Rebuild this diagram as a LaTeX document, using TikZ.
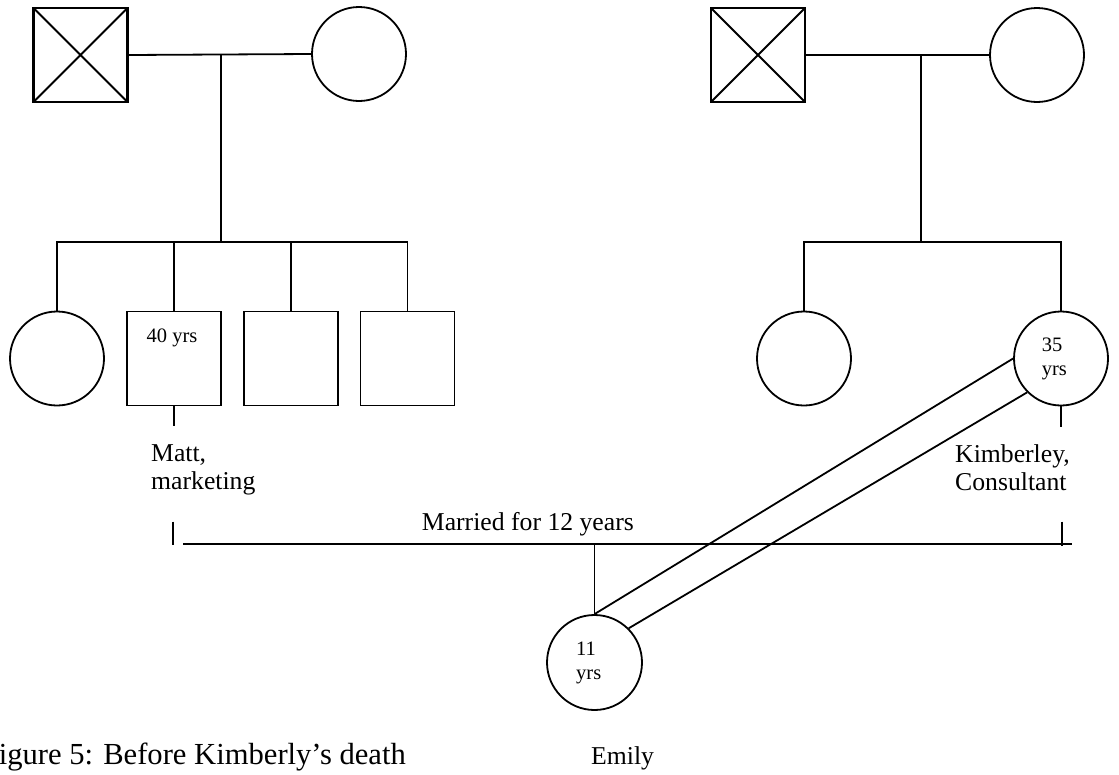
\documentclass[tikz,border=0pt]{standalone}
\usepackage{fontspec}
\setmainfont{Liberation Serif}
\begin{document}
\begin{tikzpicture}[x=1pt,y=-1pt,
  rel/.style={line width=1.8pt},
  person/.style={draw, line width=1.8pt, inner sep=0pt, minimum size=94pt},
  male/.style={person, rectangle},
  female/.style={person, circle},
  deceased/.style={male, line width=2.2pt,
    path picture={\draw[line width=1.8pt]
      (path picture bounding box.north west) -- (path picture bounding box.south east)
      (path picture bounding box.north east) -- (path picture bounding box.south west);}},
  big/.style={font=\fontsize{25.7}{28.3}\selectfont, inner sep=0pt},
  small/.style={font=\fontsize{20.5}{24}\selectfont, inner sep=0pt},
]
\useasboundingbox (0,0) rectangle (1119,774);

% grandparents
\node[deceased] (lgf) at (80.5,55) {};
\node[female]   (lgm) at (359,54) {};
\node[deceased] (rgf) at (758,55) {};
\node[female]   (rgm) at (1037,55) {};

% children generation
\node[female] (sis)  at (57,358.5) {};
\node[male]   (matt) at (173.7,358.5) {};
\node[male]   (bro1) at (291,358.5) {};
\node[male]   (bro2) at (407.5,358.5) {};
\node[female] (ksis) at (804,358.5) {};
\node[female] (kim)  at (1061,358.5) {};

% grandchild
\node[female, minimum size=95pt] (emily) at (594.5,662.5) {};

% sibship connectors
\coordinate (lm) at (220.7,55);
\coordinate (ls) at (220.7,242);
\coordinate (rm) at (920.7,55);
\coordinate (rs) at (920.7,242);
\draw[rel] (lgf.east) -- (lgm.west);
\draw[rel] (lm) -- (ls);
\draw[rel] (ls) -| (sis.north);
\draw[rel] (ls) -| (bro2.north);
\draw[rel] (matt.north) -- (matt.north |- ls);
\draw[rel] (bro1.north) -- (bro1.north |- ls);
\draw[rel] (rgf.east) -- (rgm.west);
\draw[rel] (rm) -- (rs);
\draw[rel] (rs) -| (ksis.north);
\draw[rel] (rs) -| (kim.north);

% short legs under the couple
\coordinate (mattleg) at (173.7,426);
\coordinate (kimleg)  at (1061,426.5);
\draw[rel] (matt.south) -- (mattleg);
\draw[rel] (kim.south) -- (kimleg);

% marriage line with end ticks
\coordinate (mtickT) at (173.3,521.7);
\coordinate (mtickB) at (173.3,545);
\coordinate (ktickT) at (1061.7,521.7);
\coordinate (ktickB) at (1061.7,546);
\coordinate (mlineL) at (183.3,544);
\coordinate (mlineR) at (1071.7,544);
\coordinate (drop)   at (594.5,544);
\draw[rel] (mtickT) -- (mtickB);
\draw[rel] (ktickT) -- (ktickB);
\draw[rel] (mlineL) -- (mlineR);
\draw[rel] (drop) -- (emily.north);

% close relationship: double line
\draw[rel] (emily.north) -- (kim.west);
\draw[rel] (emily.45) -- (kim.225);

% labels
\node[small, anchor=base] (mattage) at (172,342) {40 yrs};
\node[small, anchor=north west, align=left] (kimage) at (1041.7,337.8) {35\\yrs};
\node[small, anchor=north west, align=left] (emage) at (576,642) {11\\yrs};
\node[big, anchor=north west, align=left] (mattlbl) at (151,444) {Matt,\\marketing};
\node[big, anchor=north west, align=left] (kimlbl) at (955,444) {Kimberley,\\Consultant};
\node[big, anchor=base west] (mar) at (421.7,530.7) {Married for 12 years};
\node[big, anchor=base west] (emlbl) at (591,764) {Emily};
\node[font=\fontsize{30.6}{34}\selectfont, inner sep=0pt, anchor=base east] (cap) at (406,764) {Figure 5: Before Kimberly’s death};
\end{tikzpicture}
\end{document}
